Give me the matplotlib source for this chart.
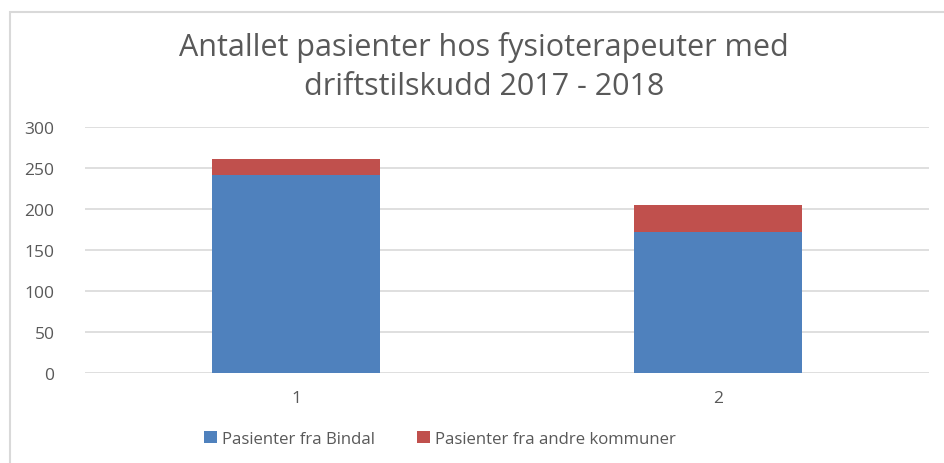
import matplotlib.pyplot as plt
from matplotlib.patches import Rectangle

categories = ["1", "2"]
bindal = [241, 171]
andre = [20, 33]
series_labels = ["Pasienter fra Bindal", "Pasienter fra andre kommuner"]
title = "Antallet pasienter hos fysioterapeuter med\ndriftstilskudd 2017 - 2018"
yticks = [0, 50, 100, 150, 200, 250, 300]

blue = '#4F81BD'
red = '#C0504D'
grey_text = '#595959'
grid_col = '#D9D9D9'

plt.rcParams['font.family'] = ['Open Sans', 'DejaVu Sans']

fig = plt.figure(figsize=(9.44, 4.64), dpi=100)
W, H = 944, 464
ax = fig.add_axes([85 / W, (H - 374) / H, (929 - 85) / W, (374 - 127.5) / H])

# chart border
fig.patches.append(Rectangle((10 / W, -0.1), 2, (H - 13) / H + 0.1,
                             transform=fig.transFigure, fill=False,
                             edgecolor=grid_col, linewidth=1.5))

xs = list(range(1, len(categories) + 1))
b1 = ax.bar(xs, bindal, width=0.4, color=blue, label=series_labels[0], zorder=3)
b2 = ax.bar(xs, andre, width=0.4, bottom=bindal, color=red, label=series_labels[1], zorder=3)

ax.set_xlim(0.5, len(categories) + 0.5)
ax.set_ylim(0, 300)
ax.set_yticks(yticks)
ax.set_xticks(xs)
ax.set_xticklabels(categories)
ax.yaxis.grid(True, color=grid_col, linewidth=1.2, zorder=0)
ax.set_axisbelow(True)
for s in ax.spines.values():
    s.set_visible(False)
ax.tick_params(axis='both', length=0, colors=grey_text, labelsize=12.5)
ax.tick_params(axis='y', pad=22)
ax.tick_params(axis='x', pad=12)

fig.text(484 / W, 1 - 67 / H, title, ha='center', va='center', fontsize=22,
         color=grey_text, linespacing=1.38)

fig.legend(handles=[b1, b2], labels=series_labels, loc='center',
           bbox_to_anchor=(440 / W, 1 - 440 / H), ncol=2, frameon=False,
           fontsize=12.1, labelcolor=grey_text, handlelength=0.75, handleheight=0.75,
           handletextpad=0.3, columnspacing=2.5)

fig.savefig("out.png", dpi=100)
